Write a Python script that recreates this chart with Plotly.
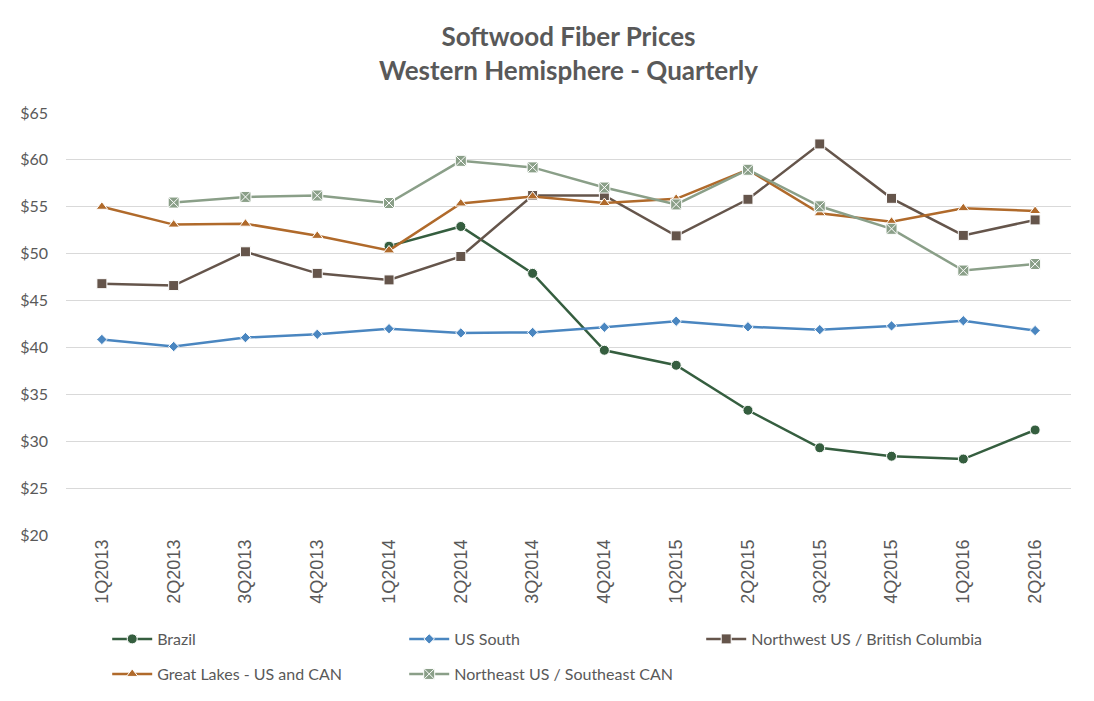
import plotly.graph_objects as go

quarters = ["1Q2013", "2Q2013", "3Q2013", "4Q2013", "1Q2014", "2Q2014", "3Q2014",
            "4Q2014", "1Q2015", "2Q2015", "3Q2015", "4Q2015", "1Q2016", "2Q2016"]

brazil = [None, None, None, None, 50.8, 52.9, 47.9, 39.7, 38.1, 33.3, 29.3, 28.4, 28.1, 31.2]
us_south = [40.85, 40.1, 41.05, 41.4, 42.0, 41.55, 41.6, 42.15, 42.8, 42.2, 41.9, 42.3, 42.85, 41.8]
northwest = [46.8, 46.6, 50.2, 47.9, 47.2, 49.7, 56.2, 56.2, 51.9, 55.8, 61.7, 55.9, 51.95, 53.6]
great_lakes = [55.0, 53.1, 53.2, 51.9, 50.35, 55.35, 56.1, 55.4, 55.85, 58.95, 54.3, 53.4, 54.85, 54.55]
northeast = [None, 55.45, 56.05, 56.2, 55.4, 59.9, 59.2, 57.05, 55.25, 58.95, 55.05, 52.65, 48.2, 48.9]

y_ticks = [20, 25, 30, 35, 40, 45, 50, 55, 60, 65]
y_tick_text = ["$" + str(v) for v in y_ticks]

names = ["Brazil", "US South", "Northwest US / British Columbia",
         "Great Lakes - US and CAN", "Northeast US / Southeast CAN"]

series = [brazil, us_south, northwest, great_lakes, northeast]
colors = ["#355E3F", "#4A86C0", "#65554B", "#B06A2B", "#8A9F88"]
symbols = ["circle", "diamond", "square", "triangle-up", "square-x"]
sizes = [10, 8, 10, 10, 11]
legends = ["legend", "legend", "legend", "legend2", "legend2"]

TXT = "#595959"
FONT = "Lato, 'Open Sans', sans-serif"

fig = go.Figure()
for name, vals, c, sym, sz, lg in zip(names, series, colors, symbols, sizes, legends):
    fig.add_trace(go.Scatter(
        x=quarters, y=vals, name=name, mode="lines+markers",
        line=dict(color=c, width=2.5),
        marker=dict(symbol=sym, size=sz, color=c, line=dict(color="#FFFFFF", width=1)),
        connectgaps=False, legend=lg,
    ))

fig.update_layout(
    width=1094, height=701,
    paper_bgcolor="white", plot_bgcolor="white",
    margin=dict(l=49, r=31, t=105, b=174),
    title=dict(text="Softwood Fiber Prices<br>Western Hemisphere - Quarterly",
               x=0.5, xanchor="center", xref="paper", yref="container",
               y=1 - 38 / 701, yanchor="middle",
               font=dict(family=FONT, size=26, color=TXT, weight="bold")),
    font=dict(family=FONT, color=TXT, size=16),
    xaxis=dict(type="category", range=[-0.5, 13.5], showgrid=False, zeroline=False,
               showline=False, ticks="", tickangle=-90,
               tickfont=dict(family="Liberation Sans, Arial, sans-serif", size=18, color=TXT)),
    yaxis=dict(range=[20, 65], tickvals=y_ticks, ticktext=y_tick_text,
               showgrid=True, gridcolor="#D9D9D9", gridwidth=1, zeroline=False,
               showline=False, ticks="", ticklabelstandoff=17,
               tickfont=dict(family=FONT, size=16, color=TXT)),
    legend=dict(orientation="h", x=0.041, xanchor="left", y=-0.2464, yanchor="middle",
                entrywidth=242, entrywidthmode="pixels", itemwidth=40,
                font=dict(family=FONT, size=16, color=TXT), bgcolor="rgba(0,0,0,0)"),
    legend2=dict(orientation="h", x=0.041, xanchor="left", y=-0.3294, yanchor="middle",
                 entrywidth=242, entrywidthmode="pixels", itemwidth=40,
                 font=dict(family=FONT, size=16, color=TXT), bgcolor="rgba(0,0,0,0)"),
    showlegend=True,
)

fig.write_html("out.html")
